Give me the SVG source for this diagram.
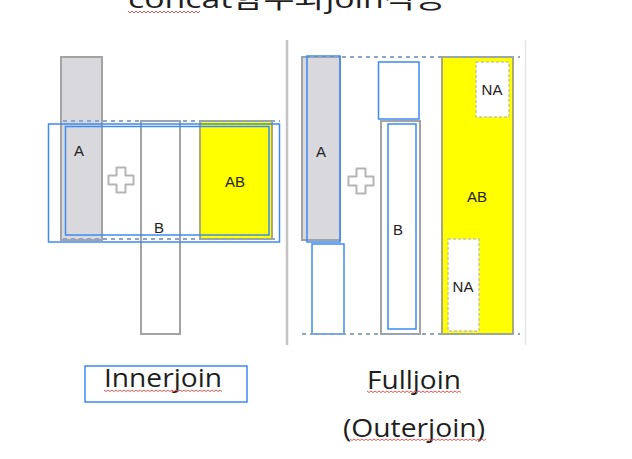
<svg xmlns="http://www.w3.org/2000/svg" width="632" height="459" viewBox="0 0 632 459">
<style>
.bg{fill:#ffffff}
.tbl{stroke:#a3a3a3;stroke-width:2}
.grey{fill:#d9d8dc}
.white{fill:#ffffff}
.yel{fill:#ffff00;stroke:#a9a97a;stroke-width:2}
.blue{fill:none;stroke:#3c8af2;stroke-width:1.5}
.bluew{fill:#ffffff;stroke:#3c8af2;stroke-width:1.5}
.dash{stroke:#8ea5c6;stroke-width:2;stroke-dasharray:4 4;fill:none}
.na{fill:#ffffff;stroke:#c8c8a0;stroke-width:1.5;stroke-dasharray:3 2}
.plus{fill:#ffffff;stroke:#b4b4b4;stroke-width:2;stroke-linejoin:round}
.lbl{font-family:"Liberation Sans",Arial,sans-serif;font-size:15px;fill:#222;text-anchor:middle}
.big{font-family:"Open Sans","Noto Sans","Noto Sans CJK KR",sans-serif;font-size:25px;fill:#1e1e1e}
.sq{fill:none;stroke:#e05a5a;stroke-width:1}
.sep{stroke:#c4c4c4;stroke-width:2.5}
</style>
<defs>
<path id="plusShape" d="M-4.5,-12.5 H4.5 V-4.5 H12.5 V4.5 H4.5 V12.5 H-4.5 V4.5 H-12.5 V-4.5 H-4.5 Z"/>
</defs>
<rect class="bg" width="632" height="459"/>

<g id="title">
<text x="128" y="8" class="big" font-size="30" font-family="'Open Sans','Noto Sans CJK KR',sans-serif" textLength="318" lengthAdjust="spacingAndGlyphs">concat함수와join적용</text>
<path class="sq" d="M128,11 l2,2 l2,-2 l2,2 l2,-2 l2,2 l2,-2 l2,2 l2,-2 l2,2 l2,-2 l2,2 l2,-2 l2,2 l2,-2 l2,2 l2,-2 l2,2 l2,-2 l2,2 l2,-2 l2,2 l2,-2 l2,2 l2,-2 l2,2 l2,-2 l2,2 l2,-2 l2,2 l2,-2 l2,2 l2,-2 l2,2 l2,-2 l2,2 l2,-2"/>
</g>

<g id="separators">
<line class="sep" x1="287" y1="40" x2="287" y2="345"/>
<line x1="525.5" y1="40" x2="525.5" y2="345" stroke="#e6e6e6" stroke-width="1.5"/>
</g>

<!-- Inner join panel -->
<g id="inner-A">
<rect class="tbl grey" x="61" y="57" width="41" height="183"/>
<text class="lbl" x="79" y="156">A</text>
</g>
<g id="inner-B">
<rect class="tbl white" x="141" y="121" width="39" height="213"/>
<text class="lbl" x="159" y="233">B</text>
</g>
<g id="inner-AB">
<rect class="yel" x="200" y="121" width="72" height="118"/>
<text class="lbl" x="235" y="187">AB</text>
</g>
<g id="inner-plus">
<use href="#plusShape" class="plus" transform="translate(121,180)"/>
</g>
<g id="inner-guides">
<line class="dash" x1="63" y1="121" x2="280" y2="121"/>
<line class="dash" x1="63" y1="239" x2="280" y2="239"/>
<rect class="blue" x="48.5" y="124" width="231" height="118"/>
<rect class="blue" x="65.5" y="126.5" width="203.5" height="108.5"/>
</g>

<!-- Full join panel -->
<g id="full-A">
<rect class="tbl grey" x="302" y="57" width="38" height="183"/>
<rect class="blue" x="307" y="56" width="33" height="186"/>
<rect class="bluew" x="312" y="244" width="32" height="90"/>
<text class="lbl" x="321" y="157">A</text>
</g>
<g id="full-B">
<rect class="bluew" x="378.5" y="62" width="40.5" height="57"/>
<rect class="tbl white" x="381" y="121" width="39" height="213"/>
<rect class="blue" x="388" y="124" width="28" height="205"/>
<text class="lbl" x="398" y="235">B</text>
</g>
<g id="full-AB">
<rect class="yel" x="442" y="57" width="71" height="277"/>
<text class="lbl" x="477" y="202">AB</text>
<rect class="na" x="476" y="62" width="33" height="55"/>
<text class="lbl" x="492" y="95">NA</text>
<rect class="na" x="448" y="239" width="31" height="92"/>
<text class="lbl" x="463" y="292">NA</text>
</g>
<g id="full-plus">
<use href="#plusShape" class="plus" transform="translate(361,181)"/>
</g>
<g id="full-guides">
<line class="dash" x1="302" y1="57" x2="520" y2="57"/>
<line class="dash" x1="302" y1="334" x2="520" y2="334"/>
</g>

<!-- captions -->
<g id="caption-inner">
<rect x="85" y="366" width="162" height="36" fill="none" stroke="#3c8af2" stroke-width="1.5"/>
<text class="big" x="104" y="387" textLength="118" lengthAdjust="spacingAndGlyphs">Innerjoin</text>
<path class="sq" d="M104,390 l2,1.5 l2,-1.5 l2,1.5 l2,-1.5 l2,1.5 l2,-1.5 l2,1.5 l2,-1.5 l2,1.5 l2,-1.5 l2,1.5 l2,-1.5 l2,1.5 l2,-1.5 l2,1.5 l2,-1.5 l2,1.5 l2,-1.5 l2,1.5 l2,-1.5 l2,1.5 l2,-1.5 l2,1.5 l2,-1.5 l2,1.5 l2,-1.5 l2,1.5 l2,-1.5 l2,1.5 l2,-1.5 l2,1.5 l2,-1.5 l2,1.5 l2,-1.5 l2,1.5 l2,-1.5 l2,1.5 l2,-1.5 l2,1.5 l2,-1.5 l2,1.5 l2,-1.5 l2,1.5 l2,-1.5 l2,1.5 l2,-1.5 l2,1.5 l2,-1.5 l2,1.5 l2,-1.5 l2,1.5 l2,-1.5 l2,1.5 l2,-1.5 l2,1.5 l2,-1.5 l2,1.5 l2,-1.5 l2,1.5"/>
</g>
<g id="caption-full">
<text class="big" x="367" y="389" textLength="94" lengthAdjust="spacingAndGlyphs">Fulljoin</text>
<path class="sq" d="M367,391 l2,1.5 l2,-1.5 l2,1.5 l2,-1.5 l2,1.5 l2,-1.5 l2,1.5 l2,-1.5 l2,1.5 l2,-1.5 l2,1.5 l2,-1.5 l2,1.5 l2,-1.5 l2,1.5 l2,-1.5 l2,1.5 l2,-1.5 l2,1.5 l2,-1.5 l2,1.5 l2,-1.5 l2,1.5 l2,-1.5 l2,1.5 l2,-1.5 l2,1.5 l2,-1.5 l2,1.5 l2,-1.5 l2,1.5 l2,-1.5 l2,1.5 l2,-1.5 l2,1.5 l2,-1.5 l2,1.5 l2,-1.5 l2,1.5 l2,-1.5 l2,1.5 l2,-1.5 l2,1.5 l2,-1.5 l2,1.5 l2,-1.5 l2,1.5"/>
<text class="big" x="343" y="437" textLength="142" lengthAdjust="spacingAndGlyphs">(Outerjoin)</text>
<path class="sq" d="M350,439 l2,1.5 l2,-1.5 l2,1.5 l2,-1.5 l2,1.5 l2,-1.5 l2,1.5 l2,-1.5 l2,1.5 l2,-1.5 l2,1.5 l2,-1.5 l2,1.5 l2,-1.5 l2,1.5 l2,-1.5 l2,1.5 l2,-1.5 l2,1.5 l2,-1.5 l2,1.5 l2,-1.5 l2,1.5 l2,-1.5 l2,1.5 l2,-1.5 l2,1.5 l2,-1.5 l2,1.5 l2,-1.5 l2,1.5 l2,-1.5 l2,1.5 l2,-1.5 l2,1.5 l2,-1.5 l2,1.5 l2,-1.5 l2,1.5 l2,-1.5 l2,1.5 l2,-1.5 l2,1.5 l2,-1.5 l2,1.5 l2,-1.5 l2,1.5 l2,-1.5 l2,1.5 l2,-1.5 l2,1.5 l2,-1.5 l2,1.5 l2,-1.5 l2,1.5 l2,-1.5 l2,1.5 l2,-1.5 l2,1.5 l2,-1.5 l2,1.5 l2,-1.5 l2,1.5 l2,-1.5 l2,1.5 l2,-1.5 l2,1.5 l2,-1.5"/>
</g>
</svg>
